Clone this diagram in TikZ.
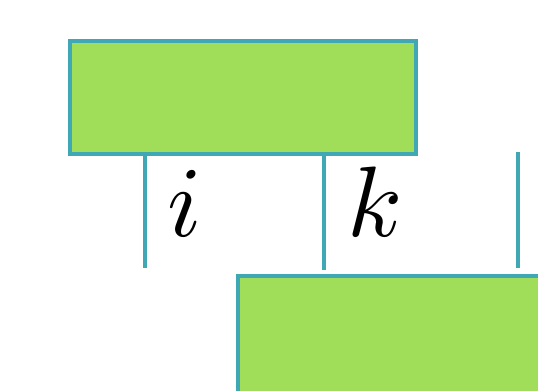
\documentclass[tikz,border=0pt]{standalone}
\usetikzlibrary{positioning, calc}

\definecolor{boxgreen}{RGB}{160,222,90}
\definecolor{legteal}{RGB}{64,168,180}

\begin{document}
\begin{tikzpicture}[x=0.02cm, y=-0.02cm,
    tensor/.style={rectangle, draw=legteal, fill=boxgreen, line width=0.09cm, inner sep=0pt},
    leg/.style={draw=legteal, line width=0.09cm},
    index/.style={scale=5.7, inner sep=0pt}]
    % Frame
    \useasboundingbox (0,0) rectangle (538,390);
    \clip (0,0) rectangle (538,390);

    % Tensors
    \node[tensor, minimum width=6.92cm, minimum height=2.26cm] (upper) at (243,97.5) {};
    \node[tensor, minimum width=7.28cm, minimum height=3.52cm] (lower) at (420,364) {};

    % Leg ends
    \coordinate (iend) at (145,268);
    \coordinate (kend) at (324,270);
    \coordinate (jtop) at (518,152);
    \coordinate (jend) at (518,268);

    % Legs
    \draw[leg] (upper.south -| iend) -- (iend);
    \draw[leg] (upper.south -| kend) -- (kend);
    \draw[leg] (jtop) -- (jend);

    % Labels
    \node[index] (ilabel) at (185,203) {$i$};
    \node[index] (klabel) at (375,202) {$k$};
\end{tikzpicture}
\end{document}
